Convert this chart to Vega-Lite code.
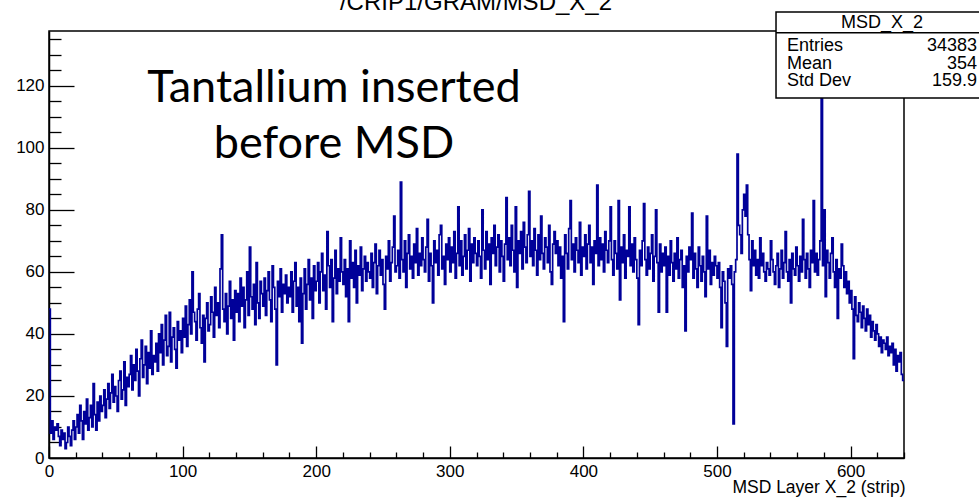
{
"$schema": "https://vega.github.io/schema/vega-lite/v6.json",
"width": 855,
"height": 427,
"autosize": {"type": "none"},
"padding": {"left": 49, "top": 31, "right": 75, "bottom": 40},
"background": "white",
"config": {"view": {"stroke": "black", "strokeWidth": 1.5}, "font": "Liberation Sans"},
"datasets": {"hist": [
{"x":0,"y":48},{"x":1,"y":8},{"x":2,"y":12},{"x":3,"y":6},{"x":4,"y":10},{"x":5,"y":9},{"x":6,"y":11},{"x":7,"y":7},{"x":8,"y":4},{"x":9,"y":9},{"x":10,"y":6},{"x":11,"y":8},{"x":12,"y":3},{"x":13,"y":5},{"x":14,"y":10},{"x":15,"y":7},{"x":16,"y":4},{"x":17,"y":9},{"x":18,"y":12},{"x":19,"y":6},
{"x":20,"y":10},{"x":21,"y":14},{"x":22,"y":8},{"x":23,"y":17},{"x":24,"y":12},{"x":25,"y":6},{"x":26,"y":15},{"x":27,"y":11},{"x":28,"y":19},{"x":29,"y":9},{"x":30,"y":13},{"x":31,"y":17},{"x":32,"y":10},{"x":33,"y":24},{"x":34,"y":14},{"x":35,"y":9},{"x":36,"y":18},{"x":37,"y":12},{"x":38,"y":20},{"x":39,"y":15},
{"x":40,"y":17},{"x":41,"y":22},{"x":42,"y":13},{"x":43,"y":19},{"x":44,"y":24},{"x":45,"y":16},{"x":46,"y":21},{"x":47,"y":27},{"x":48,"y":18},{"x":49,"y":23},{"x":50,"y":20},{"x":51,"y":15},{"x":52,"y":25},{"x":53,"y":28},{"x":54,"y":19},{"x":55,"y":22},{"x":56,"y":31},{"x":57,"y":17},{"x":58,"y":26},{"x":59,"y":23},
{"x":60,"y":27},{"x":61,"y":33},{"x":62,"y":22},{"x":63,"y":30},{"x":64,"y":25},{"x":65,"y":35},{"x":66,"y":28},{"x":67,"y":20},{"x":68,"y":32},{"x":69,"y":38},{"x":70,"y":26},{"x":71,"y":30},{"x":72,"y":36},{"x":73,"y":24},{"x":74,"y":34},{"x":75,"y":29},{"x":76,"y":41},{"x":77,"y":27},{"x":78,"y":33},{"x":79,"y":31},
{"x":80,"y":37},{"x":81,"y":28},{"x":82,"y":40},{"x":83,"y":34},{"x":84,"y":43},{"x":85,"y":30},{"x":86,"y":38},{"x":87,"y":46},{"x":88,"y":33},{"x":89,"y":36},{"x":90,"y":47},{"x":91,"y":31},{"x":92,"y":39},{"x":93,"y":42},{"x":94,"y":35},{"x":95,"y":29},{"x":96,"y":44},{"x":97,"y":38},{"x":98,"y":41},{"x":99,"y":34},
{"x":100,"y":45},{"x":101,"y":39},{"x":102,"y":49},{"x":103,"y":36},{"x":104,"y":43},{"x":105,"y":51},{"x":106,"y":40},{"x":107,"y":60},{"x":108,"y":47},{"x":109,"y":44},{"x":110,"y":38},{"x":111,"y":48},{"x":112,"y":53},{"x":113,"y":42},{"x":114,"y":37},{"x":115,"y":46},{"x":116,"y":31},{"x":117,"y":45},{"x":118,"y":50},{"x":119,"y":41},
{"x":120,"y":43},{"x":121,"y":52},{"x":122,"y":47},{"x":123,"y":39},{"x":124,"y":55},{"x":125,"y":46},{"x":126,"y":50},{"x":127,"y":42},{"x":128,"y":61},{"x":129,"y":72},{"x":130,"y":48},{"x":131,"y":44},{"x":132,"y":53},{"x":133,"y":40},{"x":134,"y":49},{"x":135,"y":57},{"x":136,"y":45},{"x":137,"y":51},{"x":138,"y":38},{"x":139,"y":54},
{"x":140,"y":47},{"x":141,"y":53},{"x":142,"y":44},{"x":143,"y":58},{"x":144,"y":49},{"x":145,"y":55},{"x":146,"y":42},{"x":147,"y":51},{"x":148,"y":60},{"x":149,"y":46},{"x":150,"y":68},{"x":151,"y":52},{"x":152,"y":48},{"x":153,"y":56},{"x":154,"y":43},{"x":155,"y":63},{"x":156,"y":50},{"x":157,"y":45},{"x":158,"y":57},{"x":159,"y":53},
{"x":160,"y":49},{"x":161,"y":58},{"x":162,"y":46},{"x":163,"y":54},{"x":164,"y":60},{"x":165,"y":51},{"x":166,"y":44},{"x":167,"y":62},{"x":168,"y":55},{"x":169,"y":48},{"x":170,"y":30},{"x":171,"y":57},{"x":172,"y":52},{"x":173,"y":61},{"x":174,"y":47},{"x":175,"y":56},{"x":176,"y":53},{"x":177,"y":59},{"x":178,"y":50},{"x":179,"y":55},
{"x":180,"y":52},{"x":181,"y":60},{"x":182,"y":47},{"x":183,"y":57},{"x":184,"y":63},{"x":185,"y":49},{"x":186,"y":55},{"x":187,"y":44},{"x":188,"y":58},{"x":189,"y":37},{"x":190,"y":53},{"x":191,"y":61},{"x":192,"y":48},{"x":193,"y":56},{"x":194,"y":64},{"x":195,"y":51},{"x":196,"y":58},{"x":197,"y":45},{"x":198,"y":62},{"x":199,"y":54},
{"x":200,"y":57},{"x":201,"y":63},{"x":202,"y":50},{"x":203,"y":60},{"x":204,"y":66},{"x":205,"y":54},{"x":206,"y":59},{"x":207,"y":48},{"x":208,"y":73},{"x":209,"y":62},{"x":210,"y":55},{"x":211,"y":64},{"x":212,"y":44},{"x":213,"y":58},{"x":214,"y":67},{"x":215,"y":53},{"x":216,"y":61},{"x":217,"y":57},{"x":218,"y":71},{"x":219,"y":60},
{"x":220,"y":56},{"x":221,"y":64},{"x":222,"y":52},{"x":223,"y":61},{"x":224,"y":44},{"x":225,"y":70},{"x":226,"y":58},{"x":227,"y":63},{"x":228,"y":55},{"x":229,"y":67},{"x":230,"y":50},{"x":231,"y":62},{"x":232,"y":59},{"x":233,"y":68},{"x":234,"y":54},{"x":235,"y":61},{"x":236,"y":65},{"x":237,"y":57},{"x":238,"y":63},{"x":239,"y":60},
{"x":240,"y":58},{"x":241,"y":66},{"x":242,"y":55},{"x":243,"y":63},{"x":244,"y":69},{"x":245,"y":53},{"x":246,"y":62},{"x":247,"y":67},{"x":248,"y":59},{"x":249,"y":64},{"x":250,"y":56},{"x":251,"y":48},{"x":252,"y":65},{"x":253,"y":61},{"x":254,"y":70},{"x":255,"y":57},{"x":256,"y":63},{"x":257,"y":68},{"x":258,"y":78},{"x":259,"y":60},
{"x":260,"y":62},{"x":261,"y":67},{"x":262,"y":58},{"x":263,"y":89},{"x":264,"y":64},{"x":265,"y":60},{"x":266,"y":70},{"x":267,"y":55},{"x":268,"y":66},{"x":269,"y":72},{"x":270,"y":61},{"x":271,"y":65},{"x":272,"y":58},{"x":273,"y":69},{"x":274,"y":63},{"x":275,"y":74},{"x":276,"y":59},{"x":277,"y":66},{"x":278,"y":62},{"x":279,"y":71},
{"x":280,"y":64},{"x":281,"y":60},{"x":282,"y":68},{"x":283,"y":77},{"x":284,"y":57},{"x":285,"y":66},{"x":286,"y":62},{"x":287,"y":50},{"x":288,"y":70},{"x":289,"y":63},{"x":290,"y":67},{"x":291,"y":59},{"x":292,"y":72},{"x":293,"y":75},{"x":294,"y":61},{"x":295,"y":65},{"x":296,"y":56},{"x":297,"y":69},{"x":298,"y":64},{"x":299,"y":71},
{"x":300,"y":60},{"x":301,"y":68},{"x":302,"y":63},{"x":303,"y":73},{"x":304,"y":58},{"x":305,"y":66},{"x":306,"y":81},{"x":307,"y":62},{"x":308,"y":70},{"x":309,"y":59},{"x":310,"y":65},{"x":311,"y":72},{"x":312,"y":61},{"x":313,"y":67},{"x":314,"y":74},{"x":315,"y":57},{"x":316,"y":69},{"x":317,"y":63},{"x":318,"y":71},{"x":319,"y":66},
{"x":320,"y":62},{"x":321,"y":70},{"x":322,"y":65},{"x":323,"y":58},{"x":324,"y":80},{"x":325,"y":67},{"x":326,"y":61},{"x":327,"y":73},{"x":328,"y":64},{"x":329,"y":69},{"x":330,"y":56},{"x":331,"y":71},{"x":332,"y":66},{"x":333,"y":75},{"x":334,"y":62},{"x":335,"y":68},{"x":336,"y":72},{"x":337,"y":60},{"x":338,"y":70},{"x":339,"y":65},
{"x":340,"y":57},{"x":341,"y":69},{"x":342,"y":84},{"x":343,"y":64},{"x":344,"y":71},{"x":345,"y":62},{"x":346,"y":75},{"x":347,"y":67},{"x":348,"y":60},{"x":349,"y":81},{"x":350,"y":55},{"x":351,"y":70},{"x":352,"y":66},{"x":353,"y":73},{"x":354,"y":61},{"x":355,"y":76},{"x":356,"y":68},{"x":357,"y":63},{"x":358,"y":72},{"x":359,"y":86},
{"x":360,"y":65},{"x":361,"y":70},{"x":362,"y":62},{"x":363,"y":74},{"x":364,"y":67},{"x":365,"y":59},{"x":366,"y":72},{"x":367,"y":64},{"x":368,"y":78},{"x":369,"y":66},{"x":370,"y":61},{"x":371,"y":71},{"x":372,"y":68},{"x":373,"y":63},{"x":374,"y":75},{"x":375,"y":60},{"x":376,"y":56},{"x":377,"y":69},{"x":378,"y":73},{"x":379,"y":66},
{"x":380,"y":70},{"x":381,"y":62},{"x":382,"y":68},{"x":383,"y":58},{"x":384,"y":65},{"x":385,"y":44},{"x":386,"y":72},{"x":387,"y":66},{"x":388,"y":61},{"x":389,"y":74},{"x":390,"y":83},{"x":391,"y":64},{"x":392,"y":69},{"x":393,"y":60},{"x":394,"y":71},{"x":395,"y":67},{"x":396,"y":63},{"x":397,"y":76},{"x":398,"y":59},{"x":399,"y":68},
{"x":400,"y":65},{"x":401,"y":72},{"x":402,"y":61},{"x":403,"y":69},{"x":404,"y":75},{"x":405,"y":63},{"x":406,"y":68},{"x":407,"y":56},{"x":408,"y":70},{"x":409,"y":66},{"x":410,"y":88},{"x":411,"y":62},{"x":412,"y":71},{"x":413,"y":64},{"x":414,"y":69},{"x":415,"y":60},{"x":416,"y":73},{"x":417,"y":67},{"x":418,"y":63},{"x":419,"y":70},
{"x":420,"y":81},{"x":421,"y":64},{"x":422,"y":59},{"x":423,"y":70},{"x":424,"y":66},{"x":425,"y":61},{"x":426,"y":83},{"x":427,"y":51},{"x":428,"y":68},{"x":429,"y":63},{"x":430,"y":72},{"x":431,"y":58},{"x":432,"y":67},{"x":433,"y":65},{"x":434,"y":81},{"x":435,"y":62},{"x":436,"y":69},{"x":437,"y":60},{"x":438,"y":71},{"x":439,"y":64},
{"x":440,"y":58},{"x":441,"y":43},{"x":442,"y":67},{"x":443,"y":62},{"x":444,"y":70},{"x":445,"y":82},{"x":446,"y":64},{"x":447,"y":59},{"x":448,"y":68},{"x":449,"y":61},{"x":450,"y":66},{"x":451,"y":72},{"x":452,"y":57},{"x":453,"y":65},{"x":454,"y":80},{"x":455,"y":63},{"x":456,"y":47},{"x":457,"y":69},{"x":458,"y":60},{"x":459,"y":66},
{"x":460,"y":62},{"x":461,"y":68},{"x":462,"y":47},{"x":463,"y":65},{"x":464,"y":59},{"x":465,"y":70},{"x":466,"y":63},{"x":467,"y":57},{"x":468,"y":66},{"x":469,"y":61},{"x":470,"y":71},{"x":471,"y":58},{"x":472,"y":64},{"x":473,"y":67},{"x":474,"y":55},{"x":475,"y":62},{"x":476,"y":41},{"x":477,"y":65},{"x":478,"y":60},{"x":479,"y":68},
{"x":480,"y":64},{"x":481,"y":79},{"x":482,"y":58},{"x":483,"y":66},{"x":484,"y":61},{"x":485,"y":55},{"x":486,"y":68},{"x":487,"y":62},{"x":488,"y":57},{"x":489,"y":65},{"x":490,"y":60},{"x":491,"y":52},{"x":492,"y":78},{"x":493,"y":61},{"x":494,"y":67},{"x":495,"y":56},{"x":496,"y":63},{"x":497,"y":59},{"x":498,"y":65},{"x":499,"y":62},
{"x":500,"y":58},{"x":501,"y":63},{"x":502,"y":55},{"x":503,"y":42},{"x":504,"y":60},{"x":505,"y":57},{"x":506,"y":50},{"x":507,"y":36},{"x":508,"y":61},{"x":509,"y":58},{"x":510,"y":62},{"x":511,"y":56},{"x":512,"y":11},{"x":513,"y":60},{"x":514,"y":64},{"x":515,"y":98},{"x":516,"y":75},{"x":517,"y":72},{"x":518,"y":66},{"x":519,"y":80},
{"x":520,"y":85},{"x":521,"y":78},{"x":522,"y":88},{"x":523,"y":72},{"x":524,"y":64},{"x":525,"y":54},{"x":526,"y":70},{"x":527,"y":62},{"x":528,"y":67},{"x":529,"y":59},{"x":530,"y":64},{"x":531,"y":58},{"x":532,"y":71},{"x":533,"y":62},{"x":534,"y":66},{"x":535,"y":60},{"x":536,"y":57},{"x":537,"y":63},{"x":538,"y":61},{"x":539,"y":59},
{"x":540,"y":70},{"x":541,"y":64},{"x":542,"y":60},{"x":543,"y":56},{"x":544,"y":62},{"x":545,"y":66},{"x":546,"y":55},{"x":547,"y":61},{"x":548,"y":67},{"x":549,"y":58},{"x":550,"y":63},{"x":551,"y":73},{"x":552,"y":60},{"x":553,"y":57},{"x":554,"y":64},{"x":555,"y":50},{"x":556,"y":66},{"x":557,"y":61},{"x":558,"y":59},{"x":559,"y":68},
{"x":560,"y":62},{"x":561,"y":57},{"x":562,"y":65},{"x":563,"y":60},{"x":564,"y":77},{"x":565,"y":64},{"x":566,"y":58},{"x":567,"y":66},{"x":568,"y":61},{"x":569,"y":55},{"x":570,"y":67},{"x":571,"y":63},{"x":572,"y":83},{"x":573,"y":60},{"x":574,"y":66},{"x":575,"y":59},{"x":576,"y":64},{"x":577,"y":70},{"x":578,"y":131},{"x":579,"y":62},
{"x":580,"y":80},{"x":581,"y":52},{"x":582,"y":67},{"x":583,"y":63},{"x":584,"y":58},{"x":585,"y":66},{"x":586,"y":71},{"x":587,"y":60},{"x":588,"y":55},{"x":589,"y":64},{"x":590,"y":45},{"x":591,"y":61},{"x":592,"y":58},{"x":593,"y":69},{"x":594,"y":62},{"x":595,"y":55},{"x":596,"y":60},{"x":597,"y":53},{"x":598,"y":57},{"x":599,"y":50},
{"x":600,"y":54},{"x":601,"y":48},{"x":602,"y":32},{"x":603,"y":52},{"x":604,"y":46},{"x":605,"y":44},{"x":606,"y":50},{"x":607,"y":47},{"x":608,"y":42},{"x":609,"y":49},{"x":610,"y":45},{"x":611,"y":41},{"x":612,"y":48},{"x":613,"y":43},{"x":614,"y":46},{"x":615,"y":39},{"x":616,"y":44},{"x":617,"y":41},{"x":618,"y":38},{"x":619,"y":43},
{"x":620,"y":40},{"x":621,"y":36},{"x":622,"y":39},{"x":623,"y":34},{"x":624,"y":38},{"x":625,"y":37},{"x":626,"y":35},{"x":627,"y":39},{"x":628,"y":33},{"x":629,"y":36},{"x":630,"y":34},{"x":631,"y":37},{"x":632,"y":30},{"x":633,"y":35},{"x":634,"y":28},{"x":635,"y":33},{"x":636,"y":31},{"x":637,"y":34},{"x":638,"y":27},{"x":639,"y":25},
{"x":640,"y":25}
]},
"layer": [
{"data": {"name": "hist"},
 "mark": {"type": "line", "interpolate": "step-after", "color": "#000099", "strokeWidth": 1.7},
 "encoding": {
  "x": {"field": "x", "type": "quantitative", "scale": {"domain": [0, 640], "nice": false, "zero": false},
   "axis": {"values": [0,100,200,300,400,500,600], "tickSize": -12, "tickColor": "black", "tickWidth": 1.3, "domainColor": "black", "domainWidth": 1.5, "labelPadding": 17, "labelFont": "Liberation Sans", "labelFontSize": 17, "labelColor": "black", "labelFlush": false, "grid": false, "format": "d",
    "title": "MSD Layer X_2 (strip)", "titleFont": "Liberation Sans", "titleFontSize": 17.5, "titleFontWeight": "normal", "titleColor": "black", "titleAnchor": "end", "titleAlign": "right", "titleX": 856, "titleY": 34, "titleBaseline": "alphabetic"}},
  "y": {"field": "y", "type": "quantitative", "scale": {"domain": [0, 137.7], "nice": false, "zero": false},
   "axis": {"values": [0,20,40,60,80,100,120], "tickSize": -25, "tickColor": "black", "tickWidth": 1.3, "domainColor": "black", "domainWidth": 1.5, "labelPadding": 30, "labelFont": "Liberation Sans", "labelFontSize": 17, "labelColor": "black", "labelFlush": false, "grid": false, "format": "d", "title": null}}
 }},
{"data": {"name": "hist"},
 "mark": {"type": "line", "strokeOpacity": 0},
 "encoding": {
  "x": {"field": "x", "type": "quantitative", "scale": {"domain": [0, 640], "nice": false, "zero": false},
   "axis": {"orient": "bottom", "values": [20,40,60,80,120,140,160,180,220,240,260,280,320,340,360,380,420,440,460,480,520,540,560,580,620,640], "tickSize": -6, "tickColor": "black", "tickWidth": 1.3, "labels": false, "domain": false, "grid": false, "title": null}},
  "y": {"field": "y", "type": "quantitative", "scale": {"domain": [0, 137.7], "nice": false, "zero": false},
   "axis": {"orient": "left", "values": [5,10,15,25,30,35,45,50,55,65,70,75,85,90,95,105,110,115,125,130,135], "tickSize": -12, "tickColor": "black", "tickWidth": 1.3, "labels": false, "domain": false, "grid": false, "title": null}}
 }},
{"data": {"values": [{}]},
 "mark": {"type": "text", "text": ["Tantallium inserted", "before MSD"], "font": "Lato", "fontSize": 45, "lineHeight": 56, "align": "center", "baseline": "alphabetic", "color": "black"},
 "encoding": {"x": {"datum": 213.3, "type": "quantitative", "axis": null}, "y": {"datum": 114.8, "type": "quantitative", "axis": null}}},
{"data": {"values": [{}]},
 "mark": {"type": "text", "text": "/CRIP1/GRAM/MSD_X_2", "font": "Liberation Sans", "fontSize": 24, "align": "center", "baseline": "alphabetic", "color": "black"},
 "encoding": {"x": {"datum": 319.6, "type": "quantitative", "axis": null}, "y": {"datum": 144.5, "type": "quantitative", "axis": null}}},
{"data": {"values": [{}]},
 "mark": {"type": "rect", "fill": "white", "stroke": "black", "strokeWidth": 1.5},
 "encoding": {"x": {"datum": 544.2, "type": "quantitative", "axis": null}, "x2": {"datum": 720}, "y": {"datum": 143.8, "type": "quantitative", "axis": null}, "y2": {"datum": 116.1}}},
{"data": {"values": [{}]},
 "mark": {"type": "rule", "stroke": "black", "strokeWidth": 1.5},
 "encoding": {"x": {"datum": 544.2, "type": "quantitative", "axis": null}, "x2": {"datum": 720}, "y": {"datum": 137.1, "type": "quantitative", "axis": null}}},
{"data": {"values": [{}]},
 "mark": {"type": "text", "text": "MSD_X_2", "font": "Liberation Sans", "fontSize": 18, "align": "center", "baseline": "middle", "color": "black"},
 "encoding": {"x": {"datum": 623.5, "type": "quantitative", "axis": null}, "y": {"datum": 140.2, "type": "quantitative", "axis": null}}},
{"data": {"values": [{}]},
 "mark": {"type": "text", "text": ["Entries", "Mean", "Std Dev"], "font": "Liberation Sans", "fontSize": 18, "lineHeight": 17.5, "align": "left", "baseline": "alphabetic", "color": "black"},
 "encoding": {"x": {"datum": 552.4, "type": "quantitative", "axis": null}, "y": {"datum": 131.2, "type": "quantitative", "axis": null}}},
{"data": {"values": [{}]},
 "mark": {"type": "text", "text": ["34383", "354", "159.9"], "font": "Liberation Sans", "fontSize": 18, "lineHeight": 17.5, "align": "right", "baseline": "alphabetic", "color": "black"},
 "encoding": {"x": {"datum": 694.7, "type": "quantitative", "axis": null}, "y": {"datum": 131.2, "type": "quantitative", "axis": null}}}
],
"resolve": {"axis": {"x": "independent", "y": "independent"}}
}
